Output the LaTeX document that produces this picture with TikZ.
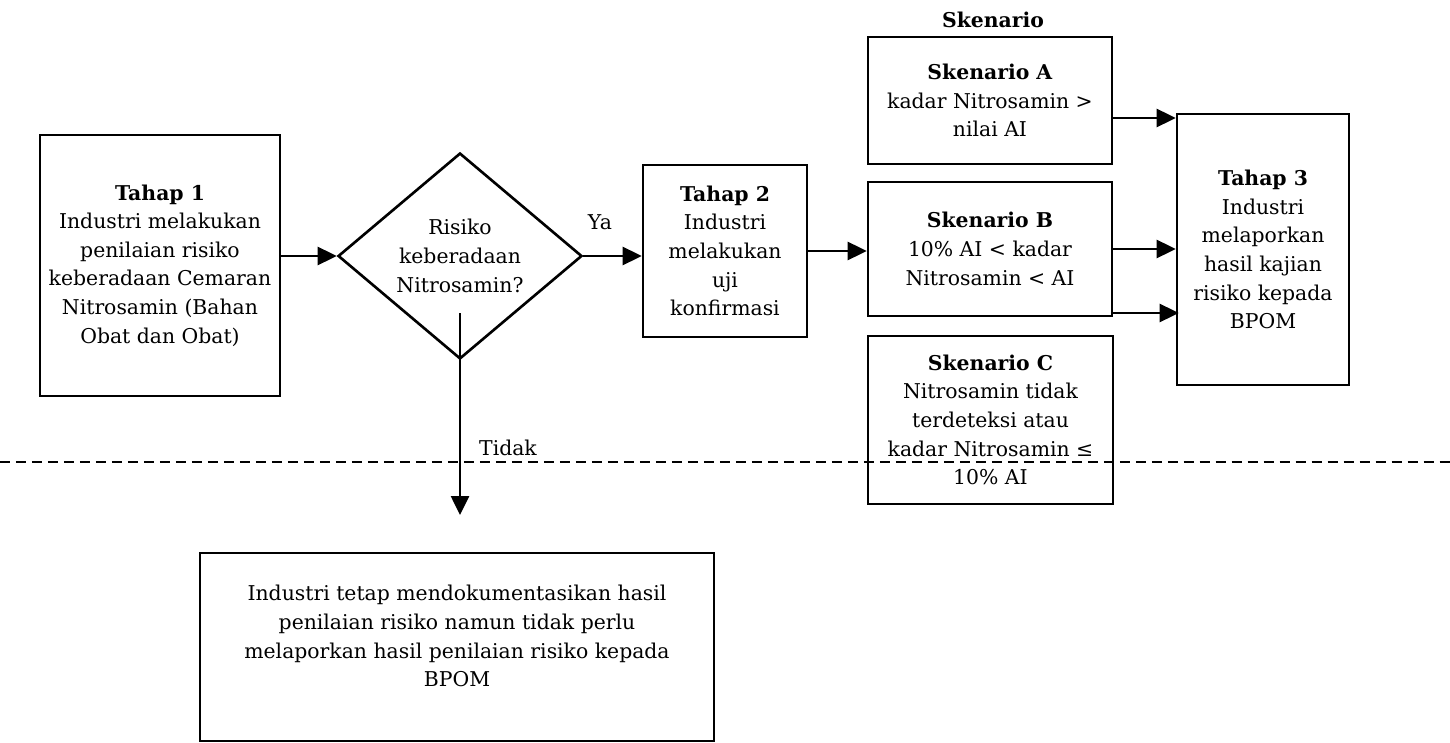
\documentclass[tikz,border=0pt]{standalone}
\usepackage{fontspec}
\setmainfont{DejaVu Serif}
\usetikzlibrary{shapes.geometric,arrows.meta}

\begin{document}
\begin{tikzpicture}[
    x=0.02cm, y=-0.02cm,
    every node/.style={font=\fontsize{11.6}{16.3}\selectfont},
    box/.style={draw, line width=1.5pt, rectangle, align=center, inner sep=2pt},
    decision/.style={draw, line width=1.5pt, diamond, align=center, inner sep=0pt},
    arr/.style={line width=1.5pt, -{Triangle[length=0.38cm, width=0.36cm]}}
]
    \useasboundingbox (0,0) rectangle (1450,743);

    \node[box, minimum width=4.8cm, minimum height=5.22cm] (t1) at (160,265.5) {\textbf{Tahap 1}\\Industri melakukan\\penilaian risiko\\keberadaan Cemaran\\Nitrosamin (Bahan\\Obat dan Obat)};
    \node[decision, minimum width=4.88cm, minimum height=4.12cm] (dec) at (460,256) {Risiko\\keberadaan\\Nitrosamin?};
    \node[box, minimum width=3.28cm, minimum height=3.44cm] (t2) at (725,251) {\textbf{Tahap 2}\\Industri\\melakukan\\uji\\konfirmasi};

    \node (skn) at (993,20) {\textbf{Skenario}};
    \node[box, minimum width=4.88cm, minimum height=2.54cm] (scA) at (990,100.5) {\textbf{Skenario A}\\kadar Nitrosamin >\\nilai AI};
    \node[box, minimum width=4.88cm, minimum height=2.68cm] (scB) at (990,249) {\textbf{Skenario B}\\10\% AI < kadar\\Nitrosamin < AI};
    \node[box, minimum width=4.9cm, minimum height=3.36cm] (scC) at (990.5,420) {\textbf{Skenario C}\\Nitrosamin tidak\\terdeteksi atau\\kadar Nitrosamin ≤\\10\% AI};
    \node[box, minimum width=3.44cm, minimum height=5.42cm] (t3) at (1263,249.5) {\textbf{Tahap 3}\\Industri\\melaporkan\\hasil kajian\\risiko kepada\\BPOM};

    \node[box, minimum width=10.28cm, minimum height=3.76cm] (dok) at (457,647) {Industri tetap mendokumentasikan hasil\\penilaian risiko namun tidak perlu\\melaporkan hasil penilaian risiko kepada\\BPOM\\[-4pt]};

    \node (ya) at (600,222) {Ya};
    \node (tidak) at (508,448) {Tidak};

    \coordinate (tdkfrom) at (460,313);
    \coordinate (tdkto) at (460,515);

    \draw[arr] (t1.east |- dec.west) -- (dec.west);
    \draw[arr] (dec.east) -- (t2.west |- dec.east);
    \draw[arr] (t2.east) -- (t2.east -| scB.west);
    \draw[arr] (tdkfrom) -- (tdkto);
    \draw[arr] (scA.east |- 0,118) -- (t3.west |- 0,118);
    \draw[arr] (scB.east) -- (t3.west |- scB.east);
    \draw[arr] (scB.east |- 0,313) -- ([xshift=0.06cm]t3.west |- 0,313);

    \draw[line width=1.5pt, dash pattern=on 0.2cm off 0.12cm] (0,462) -- (1450,462);
\end{tikzpicture}
\end{document}
